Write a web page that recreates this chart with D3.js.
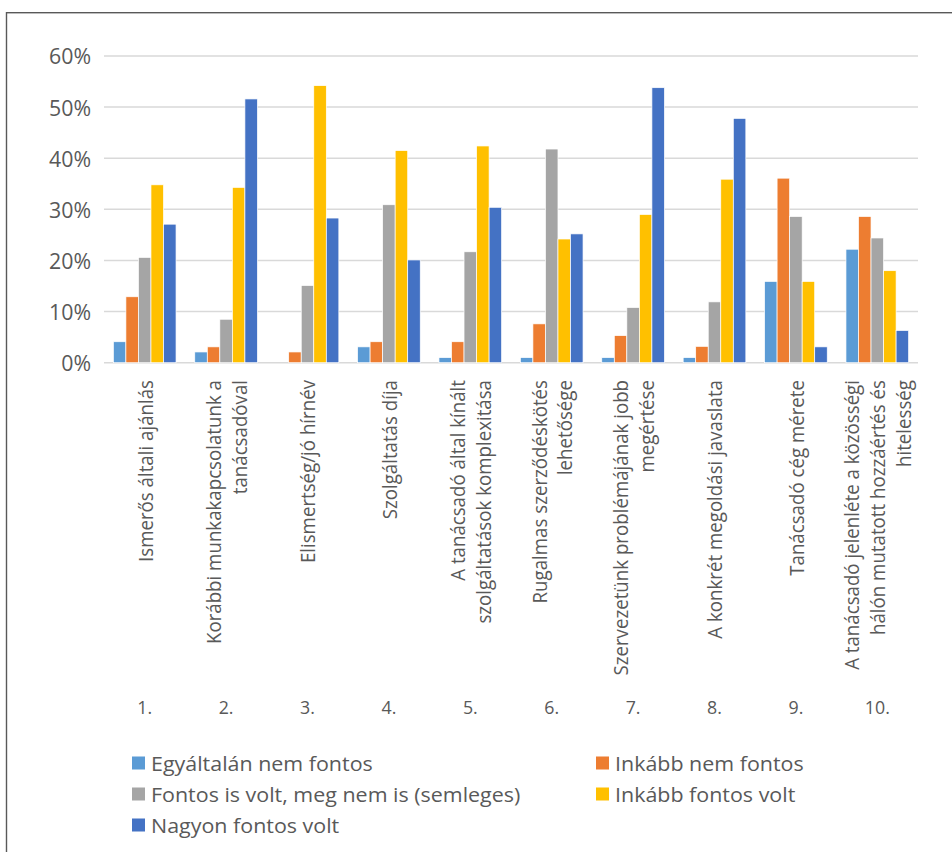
<!DOCTYPE html>
<html>
<head>
<meta charset="utf-8">
<script src="https://cdn.jsdelivr.net/npm/d3@7/dist/d3.min.js"></script>
<style>
  html, body { margin: 0; padding: 0; background: #fff; }
  svg { display: block; }
  text { font-family: "Open Sans", "Noto Sans", sans-serif; fill: #595959; }
</style>
</head>
<body>
<svg id="chart" width="952" height="852"></svg>
<script>
// ---- data ----
const categories = [
  "Ismerős általi ajánlás",
  "Korábbi munkakapcsolatunk a\ntanácsadóval",
  "Elismertség/jó hírnév",
  "Szolgáltatás díja",
  "A tanácsadó által kínált\nszolgáltatások komplexitása",
  "Rugalmas szerződéskötés\nlehetősége",
  "Szervezetünk problémájának jobb\nmegértése",
  "A konkrét megoldási javaslata",
  "Tanácsadó cég mérete",
  "A tanácsadó jelenléte a közösségi\nhálón mutatott hozzáértés és\nhitelesség"
];
const numbers = ["1.", "2.", "3.", "4.", "5.", "6.", "7.", "8.", "9.", "10."];
const seriesNames = [
  "Egyáltalán nem fontos",
  "Inkább nem fontos",
  "Fontos is volt, meg nem is (semleges)",
  "Inkább fontos volt",
  "Nagyon fontos volt"
];
const egyaltalanNem = [0.041, 0.021, 0.000, 0.031, 0.010, 0.010, 0.010, 0.010, 0.159, 0.222];
const inkabbNem     = [0.129, 0.031, 0.021, 0.041, 0.041, 0.076, 0.053, 0.032, 0.361, 0.286];
const semleges      = [0.206, 0.085, 0.151, 0.309, 0.217, 0.418, 0.108, 0.119, 0.286, 0.244];
const inkabbFontos  = [0.348, 0.343, 0.542, 0.415, 0.424, 0.242, 0.290, 0.359, 0.159, 0.180];
const nagyonFontos  = [0.271, 0.516, 0.283, 0.201, 0.304, 0.252, 0.538, 0.478, 0.031, 0.063];
const yTicks = [0, 0.1, 0.2, 0.3, 0.4, 0.5, 0.6];
const colors = ["#5B9BD5", "#ED7D31", "#A5A5A5", "#FFC000", "#4472C4"];

const seriesValues = [egyaltalanNem, inkabbNem, semleges, inkabbFontos, nagyonFontos];

// ---- layout ----
const svg = d3.select("#chart");
const plotLeft = 104, plotRight = 918, plotTop = 56, plotBottom = 362.7;

// frame
svg.append("rect")
  .attr("x", 6.5).attr("y", 12.7)
  .attr("width", 1000).attr("height", 1000)
  .attr("fill", "none").attr("stroke", "#595959").attr("stroke-width", 1.4);

const x0 = d3.scaleBand().domain(d3.range(categories.length))
  .range([plotLeft, plotRight]).paddingInner(0.23).paddingOuter(0.115);
const x1 = d3.scaleBand().domain(d3.range(seriesNames.length))
  .range([0, x0.bandwidth()]).padding(0);
const y = d3.scaleLinear().domain([0, 0.6]).range([plotBottom, plotTop]);

// helper: measure a string to derive a horizontal compression factor
function fitScale(str, size, target) {
  const t = svg.append("text").attr("font-size", size).text(str);
  const w = t.node().getComputedTextLength();
  t.remove();
  return target / w;
}

// gridlines
svg.append("g").selectAll("line").data(yTicks).join("line")
  .attr("x1", plotLeft).attr("x2", plotRight)
  .attr("y1", d => y(d)).attr("y2", d => y(d))
  .attr("stroke", "#d9d9d9").attr("stroke-width", 1.5);

// y tick labels
const tickSize = 21;
const tickSx = fitScale("60%", tickSize, 42);
svg.append("g").selectAll("text").data(yTicks).join("text")
  .attr("transform", d => `translate(91,${y(d)}) scale(${tickSx},1)`)
  .attr("text-anchor", "end")
  .attr("dominant-baseline", "central")
  .attr("font-size", tickSize)
  .text(d => d3.format(".0%")(d));

// bars
const groups = svg.append("g").selectAll("g").data(categories).join("g")
  .attr("transform", (d, i) => `translate(${x0(i)},0)`);
groups.selectAll("rect")
  .data((d, i) => seriesValues.map((vals, s) => ({ s, v: vals[i] })))
  .join("rect")
  .attr("x", d => x1(d.s))
  .attr("width", x1.bandwidth())
  .attr("y", d => y(d.v))
  .attr("height", d => y(0) - y(d.v))
  .attr("fill", d => colors[d.s])
  .attr("stroke", d => d.v > 0 ? "#ffffff" : "none")
  .attr("stroke-width", 0.7);

// category labels (rotated)
const catSize = 20.5;
const catSx = fitScale("Ismerős általi ajánlás", catSize, 182);
const lineGap = 25.8;
categories.forEach((label, i) => {
  const lines = label.split("\n");
  const cx = x0(i) + x0.bandwidth() / 2;
  const g = svg.append("g")
    .attr("transform", `translate(${cx},380) rotate(-90) scale(${catSx},1)`);
  lines.forEach((ln, k) => {
    g.append("text")
      .attr("x", 0)
      .attr("y", (k - (lines.length - 1) / 2) * lineGap)
      .attr("text-anchor", "end")
      .attr("dominant-baseline", "central")
      .attr("font-size", catSize)
      .text(ln);
  });
});

// category numbers
const numSize = 18;
const numSx = fitScale("10.", numSize, 25);
svg.append("g").selectAll("text").data(numbers).join("text")
  .attr("transform", (d, i) => `translate(${x0(i) + x0.bandwidth() / 2},707) scale(${numSx},1)`)
  .attr("text-anchor", "middle")
  .attr("dominant-baseline", "central")
  .attr("font-size", numSize)
  .text(d => d);

// legend
const legSize = 20;
const legSx = fitScale("Egyáltalán nem fontos", legSize, 222);
const legPos = [
  { x: 132, y: 763 }, { x: 596, y: 763 },
  { x: 132, y: 794 }, { x: 596, y: 794 },
  { x: 132, y: 825 }
];
const leg = svg.append("g").selectAll("g").data(seriesNames).join("g")
  .attr("transform", (d, i) => `translate(${legPos[i].x},${legPos[i].y})`);
leg.append("rect")
  .attr("x", 0).attr("y", -6.5).attr("width", 13).attr("height", 13)
  .attr("fill", (d, i) => colors[i]);
leg.append("text")
  .attr("transform", `translate(19,0) scale(${legSx},1)`)
  .attr("dominant-baseline", "central")
  .attr("font-size", legSize)
  .text(d => d);
</script>
</body>
</html>
